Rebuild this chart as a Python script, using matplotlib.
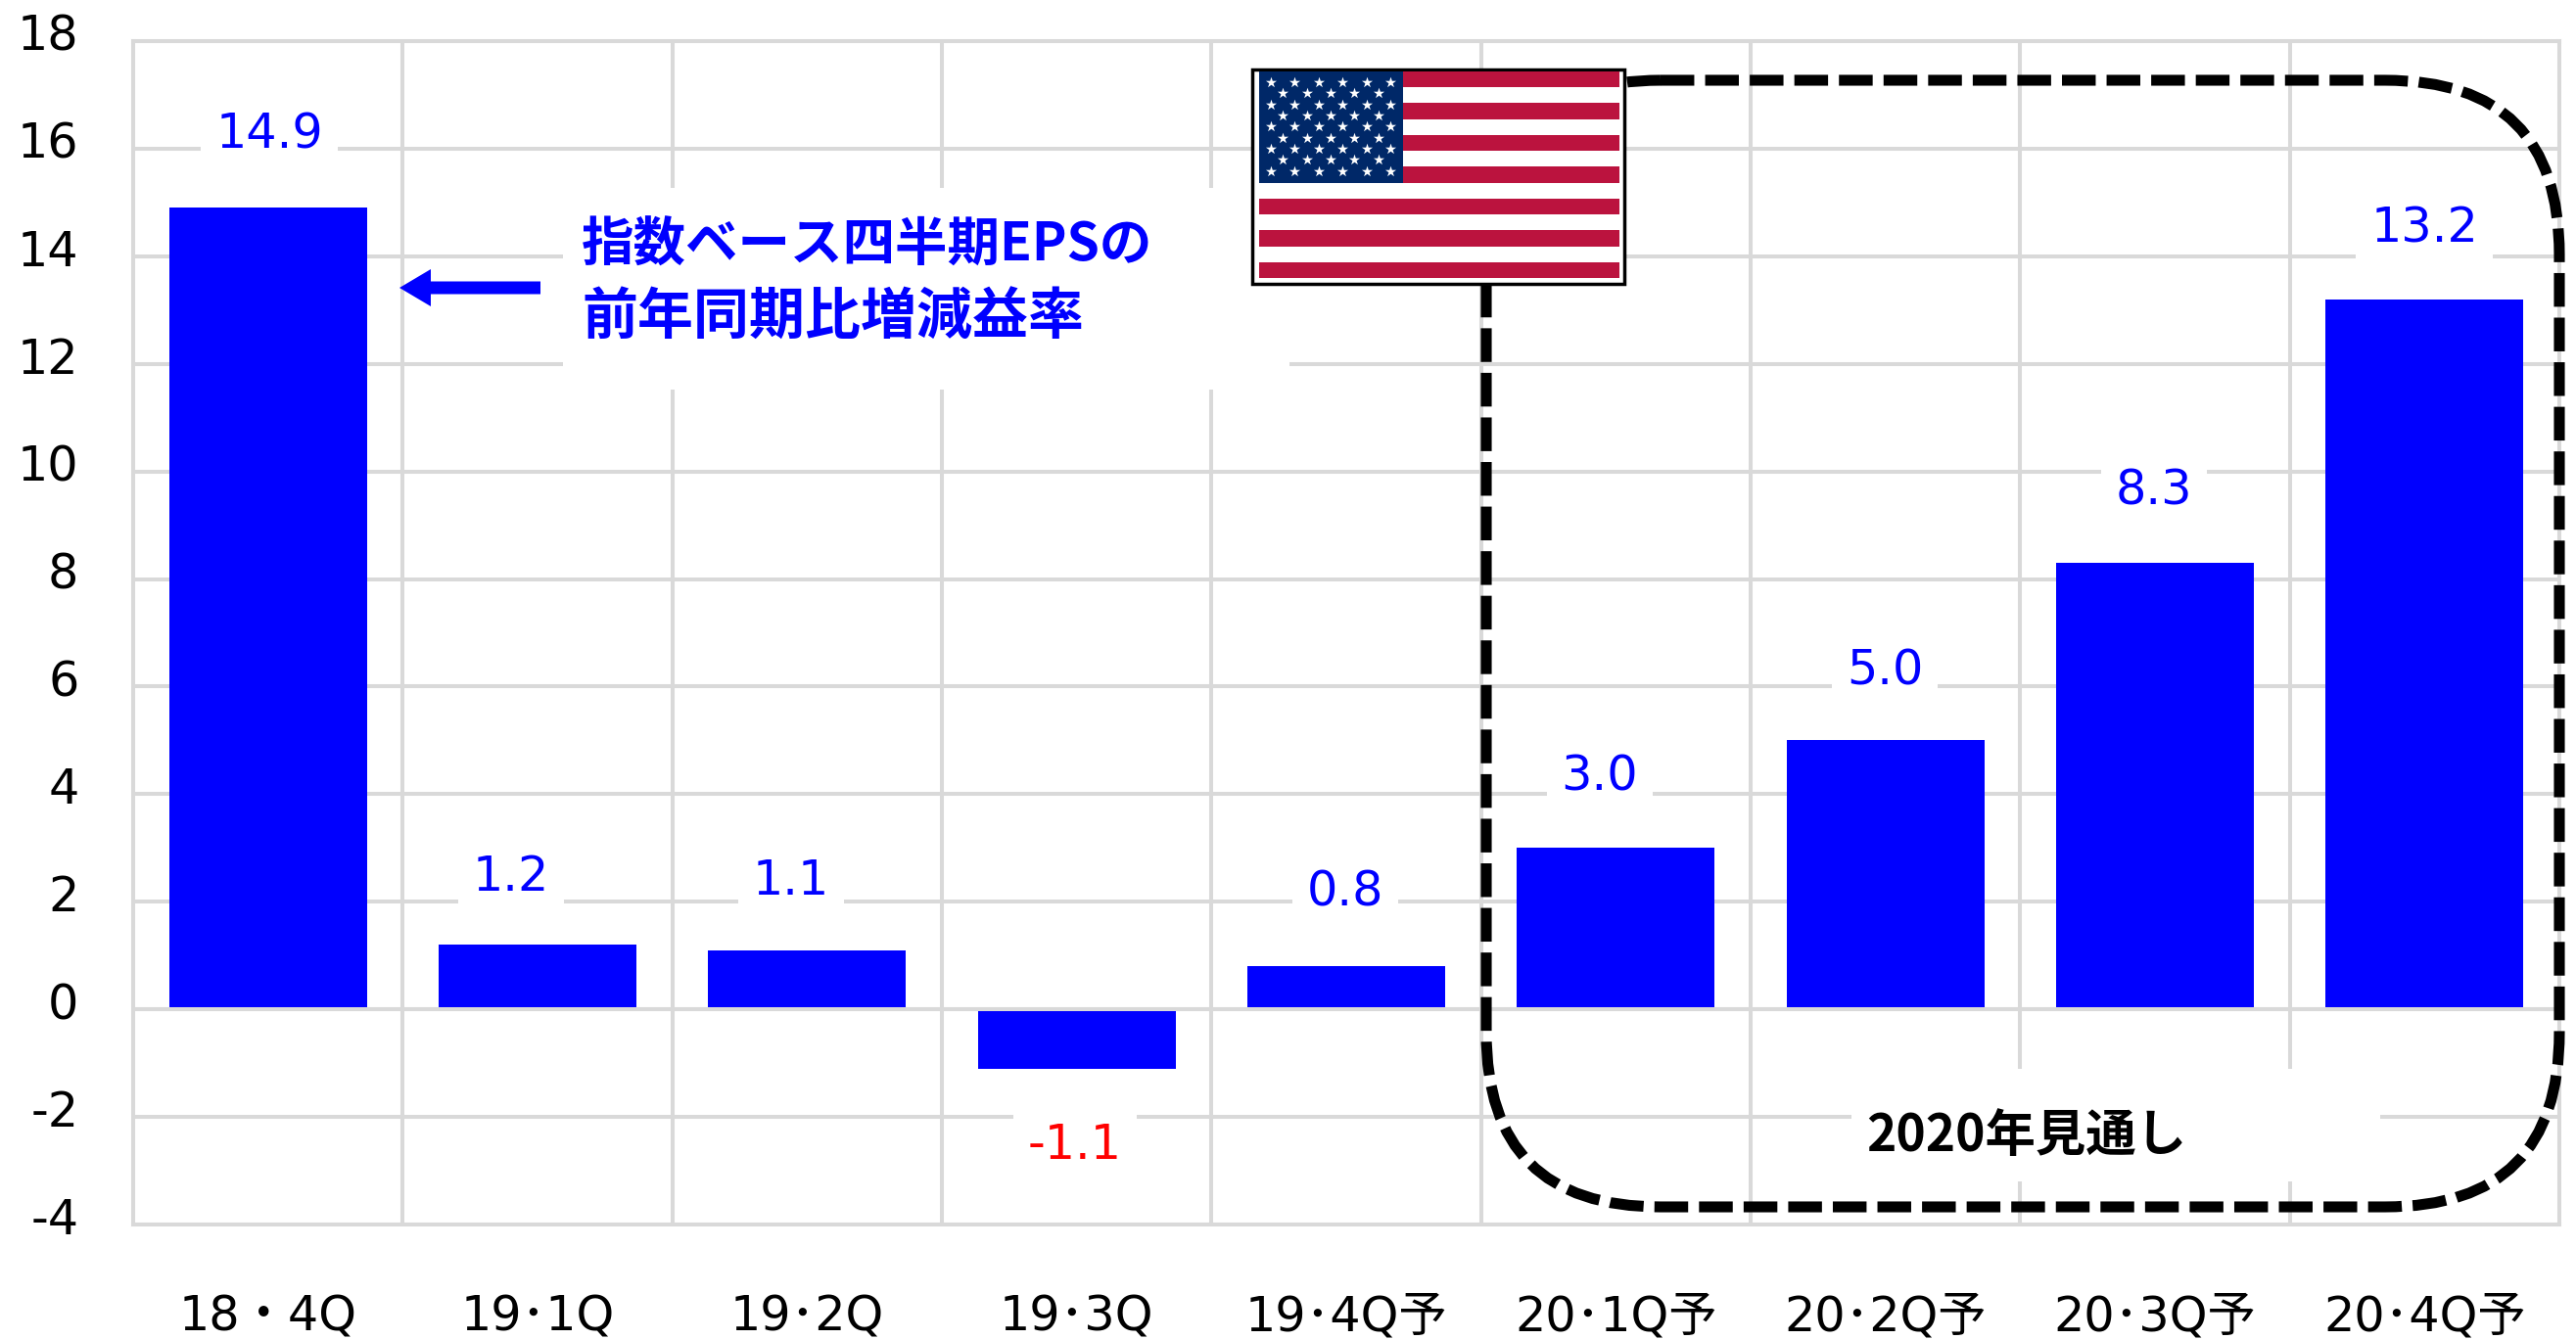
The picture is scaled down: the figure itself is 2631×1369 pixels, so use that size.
"""US quarterly index EPS growth, year on year, with the 2020 outlook boxed."""
import numpy as np
import matplotlib
matplotlib.use("Agg")
import matplotlib.pyplot as plt
from matplotlib.patches import FancyArrow, FancyBboxPatch, Rectangle
from matplotlib.transforms import ScaledTranslation

W, H = 2631, 1369
DPI = 100
GRID = "#d9d9d9"
BLUE = "#0000ff"
FONTS = ["DejaVu Sans", "Noto Sans CJK JP"]

quarters = ["18・4Q", "19･1Q", "19･2Q", "19･3Q", "19･4Q予",
            "20･1Q予", "20･2Q予", "20･3Q予", "20･4Q予"]
eps_growth = [14.9, 1.2, 1.1, -1.1, 0.8, 3.0, 5.0, 8.3, 13.2]
y_ticks = [-4, -2, 0, 2, 4, 6, 8, 10, 12, 14, 16, 18]

# the value labels sit off-centre in the source, so they keep their own pixel spots
label_x_px = [275, 522, 808, 1098, 1374, 1634, 1925, 2200, 2476]
label_base_px = [152, 910, 914, 1184, 926, 807, 699, 516, 247]

plt.rcParams["font.family"] = FONTS

fig = plt.figure(figsize=(W / DPI, H / DPI), dpi=DPI, facecolor="white")
ax = fig.add_axes([136 / W, 1 - 1251 / H, (2614 - 136) / W, (1251 - 42) / H])

x = np.arange(len(quarters))
ax.bar(x, eps_growth, width=0.734, color=BLUE, zorder=2)
ax.axhline(0, color=GRID, lw=2.9, zorder=3)

ax.set_xlim(-0.5, 8.5)
ax.set_ylim(-4, 18)
ax.set_axisbelow(True)
ax.set_xticks(x)
ax.set_xticklabels(quarters, fontsize=35.5)
ax.set_xticks(np.arange(-0.5, 9), minor=True)
ax.set_yticks(y_ticks)
ax.set_yticklabels([str(v) for v in y_ticks], fontsize=35.5)
ax.grid(True, axis="y", which="major", color=GRID, lw=2.9)
ax.grid(True, axis="x", which="minor", color=GRID, lw=2.9)
ax.tick_params(axis="both", which="both", length=0)
ax.tick_params(axis="x", pad=51)
ax.tick_params(axis="y", pad=40)
for tick_label in ax.get_yticklabels():
    tick_label.set_transform(tick_label.get_transform()
                             + ScaledTranslation(0, 9 / DPI, fig.dpi_scale_trans))
for spine in ax.spines.values():
    spine.set_color(GRID)
    spine.set_linewidth(2.9)

# overlay in image pixels for the hand-placed annotations
over = fig.add_axes([0, 0, 1, 1])
over.set_xlim(0, W)
over.set_ylim(H, 0)
over.axis("off")

for lx, ly, val in zip(label_x_px, label_base_px, eps_growth):
    over.text(lx, ly, f"{val:.1f}", ha="center", va="baseline", fontsize=35.5,
              color="#ff0000" if val < 0 else BLUE, zorder=3,
              bbox=dict(boxstyle="square,pad=0.3", fc="white", ec="none"))

# white panels that knock the grid out behind the two notes
over.add_patch(Rectangle((575, 192), 742, 206, fc="white", ec="none", zorder=1))
over.add_patch(Rectangle((1891, 1092), 540, 115, fc="white", ec="none", zorder=1))

over.text(594, 267, "指数ベース四半期EPSの", fontsize=38.5, fontweight="bold", color=BLUE,
          family="Noto Sans CJK JP", ha="left", va="baseline", zorder=4)
over.text(594, 342, "前年同期比増減益率", fontsize=41, fontweight="bold", color=BLUE,
          family="Noto Sans CJK JP", ha="left", va="baseline", zorder=4)
over.text(1906, 1176, "2020年見通し", fontsize=37, fontweight="bold", color="black",
          family="Noto Sans CJK JP", ha="left", va="baseline", zorder=4)

over.add_patch(FancyArrow(552, 294, -144, 0, width=13, head_width=38, head_length=32,
                          length_includes_head=True, fc=BLUE, ec="none", zorder=4))

over.add_patch(FancyBboxPatch((1518, 82), 2614 - 1518, 1233 - 82,
                              boxstyle="round,pad=0,rounding_size=178",
                              fc="none", ec="black", lw=8, capstyle="butt",
                              linestyle=(0, (3.1, 1.0)), zorder=5))

# flag
over.add_patch(Rectangle((1279, 71), 380, 219, fc="white", ec="black", lw=2.5, zorder=6))
stripe_h = (284 - 73) / 13
for i in range(0, 13, 2):
    over.add_patch(Rectangle((1286, 73 + i * stripe_h), 368, stripe_h,
                             fc="#bb133e", ec="none", zorder=7))
over.add_patch(Rectangle((1286, 73), 147, 114, fc="#002868", ec="none", zorder=8))
star_x, star_y = [], []
for row in range(9):
    for col in range(6 if row % 2 == 0 else 5):
        star_x.append(1298 + col * 24.4 + (12.2 if row % 2 else 0))
        star_y.append(84 + row * 11.35)
over.scatter(star_x, star_y, marker="*", s=70, c="white", linewidths=0, zorder=9)

fig.savefig("out.png", dpi=DPI, facecolor="white")
